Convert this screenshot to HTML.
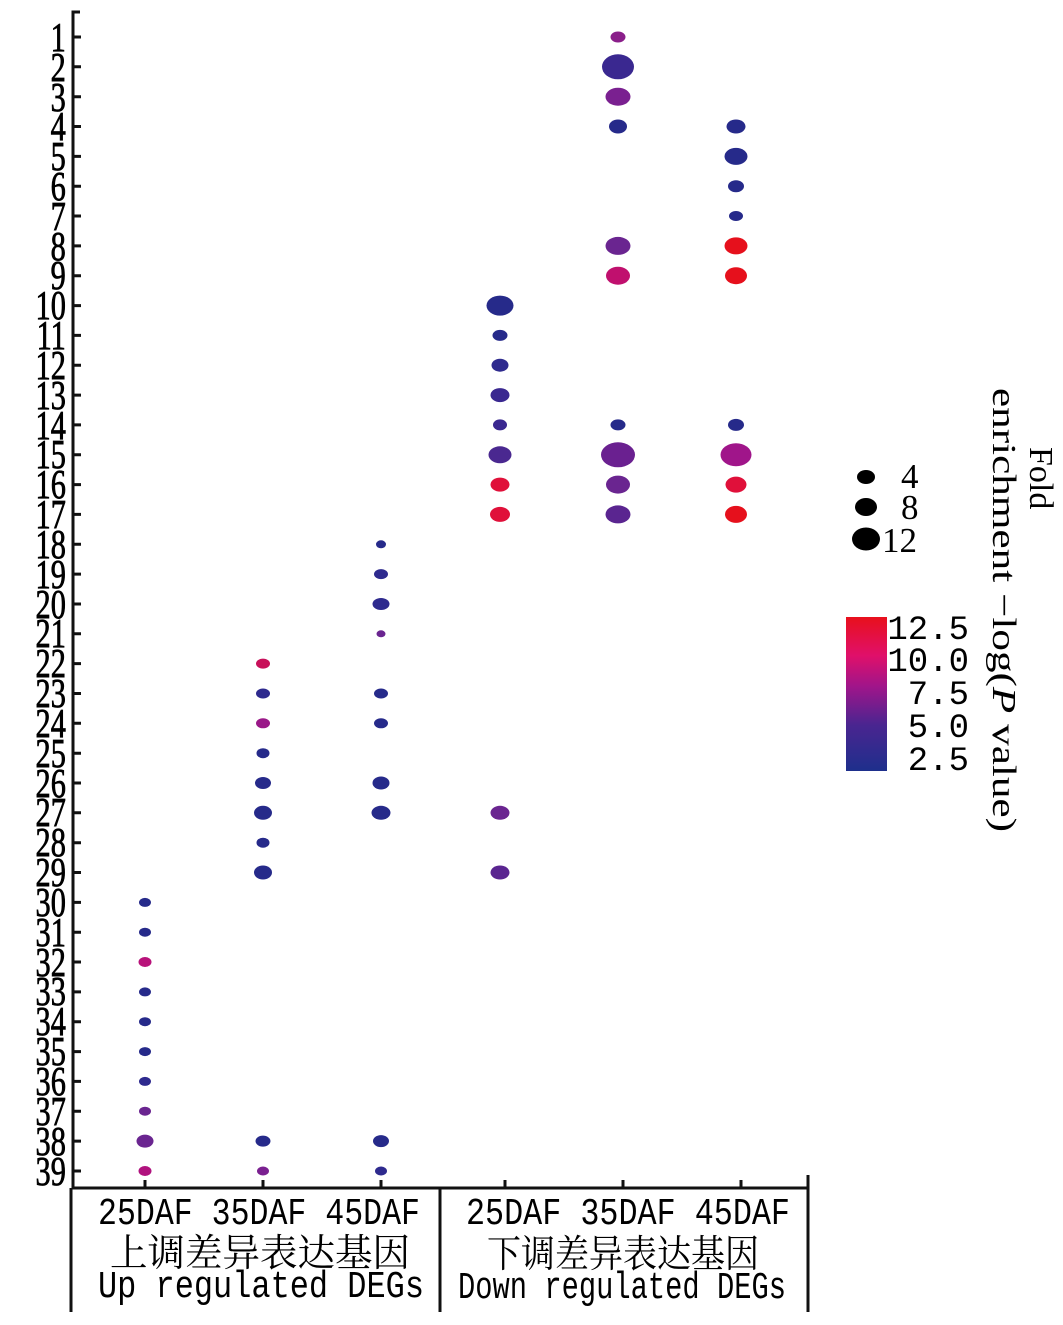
<!DOCTYPE html>
<html><head><meta charset="utf-8"><style>html,body{margin:0;padding:0;background:#fff}svg{display:block}</style></head>
<body>
<svg width="1063" height="1325" viewBox="0 0 1063 1325" xmlns="http://www.w3.org/2000/svg">
<defs>
<linearGradient id="cb" x1="0" y1="1" x2="0" y2="0">
<stop offset="0" stop-color="#1e2f8c"/><stop offset="0.3" stop-color="#4a2590"/><stop offset="0.55" stop-color="#a0158a"/><stop offset="0.75" stop-color="#e0106a"/><stop offset="1" stop-color="#e8101c"/>
</linearGradient>
</defs>
<g stroke="#111" stroke-width="3" fill="none">
<path d="M80 12 H73 V1188 H808 V1175"/>
<path d="M71 1188 V1312 M440 1188 V1312 M808 1188 V1312"/>
<path d="M73 37h8M73 66.8h8M73 96.7h8M73 126.5h8M73 156.4h8M73 186.2h8M73 216h8M73 245.9h8M73 275.7h8M73 305.6h8M73 335.4h8M73 365.2h8M73 395.1h8M73 424.9h8M73 454.8h8M73 484.6h8M73 514.4h8M73 544.3h8M73 574.1h8M73 604h8M73 633.8h8M73 663.6h8M73 693.5h8M73 723.3h8M73 753.2h8M73 783h8M73 812.8h8M73 842.7h8M73 872.5h8M73 902.4h8M73 932.2h8M73 962h8M73 991.9h8M73 1021.7h8M73 1051.6h8M73 1081.4h8M73 1111.2h8M73 1141.1h8M73 1171h8"/>
<path d="M145 1188v-8M263 1188v-8M381 1188v-8M505 1188v-8M623 1188v-8M741 1188v-8"/>
</g>
<g font-family="Liberation Serif, serif" font-size="41" fill="#000" stroke="#000" stroke-width="0.8" text-anchor="end" transform="scale(0.74,1)">
<text x="89" y="51">1</text><text x="89" y="81">2</text><text x="89" y="111">3</text><text x="89" y="140">4</text><text x="89" y="170">5</text><text x="89" y="200">6</text><text x="89" y="230">7</text><text x="89" y="260">8</text><text x="89" y="289">9</text><text x="89" y="319">10</text><text x="89" y="349">11</text><text x="89" y="379">12</text><text x="89" y="409">13</text><text x="89" y="439">14</text><text x="89" y="468">15</text><text x="89" y="498">16</text><text x="89" y="528">17</text><text x="89" y="558">18</text><text x="89" y="588">19</text><text x="89" y="618">20</text><text x="89" y="647">21</text><text x="89" y="677">22</text><text x="89" y="707">23</text><text x="89" y="737">24</text><text x="89" y="767">25</text><text x="89" y="797">26</text><text x="89" y="826">27</text><text x="89" y="856">28</text><text x="89" y="886">29</text><text x="89" y="916">30</text><text x="89" y="946">31</text><text x="89" y="976">32</text><text x="89" y="1005">33</text><text x="89" y="1035">34</text><text x="89" y="1065">35</text><text x="89" y="1095">36</text><text x="89" y="1125">37</text><text x="89" y="1155">38</text><text x="89" y="1185">39</text>
</g>
<g>
<ellipse cx="145" cy="902.4" rx="6" ry="4.5" fill="#262a8a"/>
<ellipse cx="145" cy="932.2" rx="6" ry="4.5" fill="#262a8a"/>
<ellipse cx="145" cy="962" rx="6.5" ry="5" fill="#b8127a"/>
<ellipse cx="145" cy="991.9" rx="6" ry="4.5" fill="#262a8a"/>
<ellipse cx="145" cy="1021.7" rx="6" ry="4.5" fill="#262a8a"/>
<ellipse cx="145" cy="1051.6" rx="6" ry="4.5" fill="#262a8a"/>
<ellipse cx="145" cy="1081.4" rx="6" ry="4.5" fill="#2e2a8e"/>
<ellipse cx="145" cy="1111.2" rx="6" ry="4.5" fill="#6a2590"/>
<ellipse cx="145" cy="1141.1" rx="8.5" ry="6.5" fill="#6a2590"/>
<ellipse cx="145" cy="1171" rx="6.5" ry="5" fill="#b0127e"/>
<ellipse cx="263" cy="663.6" rx="7" ry="5" fill="#c8105a"/>
<ellipse cx="263" cy="693.5" rx="7" ry="5" fill="#2e2a8e"/>
<ellipse cx="263" cy="723.3" rx="7" ry="5" fill="#9a1888"/>
<ellipse cx="263" cy="753.2" rx="6.5" ry="5" fill="#262a8a"/>
<ellipse cx="263" cy="783" rx="8" ry="6" fill="#262a8a"/>
<ellipse cx="263" cy="812.8" rx="9" ry="7" fill="#262a8a"/>
<ellipse cx="263" cy="842.7" rx="6.5" ry="5" fill="#262a8a"/>
<ellipse cx="263" cy="872.5" rx="9" ry="7" fill="#262a8a"/>
<ellipse cx="263" cy="1141.1" rx="7.5" ry="5.5" fill="#262a8a"/>
<ellipse cx="263" cy="1171" rx="6" ry="4.5" fill="#7a2090"/>
<ellipse cx="381" cy="544.3" rx="5" ry="4" fill="#262a8a"/>
<ellipse cx="381" cy="574.1" rx="7" ry="5" fill="#2e2a8e"/>
<ellipse cx="381" cy="604" rx="8.5" ry="6" fill="#2e2a8e"/>
<ellipse cx="381" cy="633.8" rx="4.5" ry="3.5" fill="#6a2590"/>
<ellipse cx="381" cy="693.5" rx="7" ry="5" fill="#262a8a"/>
<ellipse cx="381" cy="723.3" rx="7" ry="5" fill="#262a8a"/>
<ellipse cx="381" cy="783" rx="8.5" ry="6.5" fill="#262a8a"/>
<ellipse cx="381" cy="812.8" rx="9.5" ry="7" fill="#262a8a"/>
<ellipse cx="381" cy="1141.1" rx="8" ry="6" fill="#262a8a"/>
<ellipse cx="381" cy="1171" rx="6" ry="4.5" fill="#2e2a8e"/>
<ellipse cx="500" cy="305.6" rx="13.5" ry="10" fill="#262a8a"/>
<ellipse cx="500" cy="335.4" rx="7.5" ry="5.5" fill="#262a8a"/>
<ellipse cx="500" cy="365.2" rx="8.5" ry="6.5" fill="#2e2a8e"/>
<ellipse cx="500" cy="395.1" rx="9.5" ry="7" fill="#3a2890"/>
<ellipse cx="500" cy="424.9" rx="7" ry="5.5" fill="#3a2890"/>
<ellipse cx="500" cy="454.8" rx="11.5" ry="8.5" fill="#4a2890"/>
<ellipse cx="500" cy="484.6" rx="9.5" ry="7" fill="#e0103a"/>
<ellipse cx="500" cy="514.4" rx="10" ry="7.5" fill="#e0103a"/>
<ellipse cx="500" cy="812.8" rx="9.5" ry="7" fill="#6a2590"/>
<ellipse cx="500" cy="872.5" rx="9.5" ry="7" fill="#5a2590"/>
<ellipse cx="618" cy="37" rx="7.5" ry="5.5" fill="#8a1f8a"/>
<ellipse cx="618" cy="66.8" rx="16" ry="12.5" fill="#3a2890"/>
<ellipse cx="618" cy="96.7" rx="12.5" ry="9" fill="#7a2090"/>
<ellipse cx="618" cy="126.5" rx="9" ry="7" fill="#262a8a"/>
<ellipse cx="618" cy="245.9" rx="12.5" ry="9" fill="#6a2590"/>
<ellipse cx="618" cy="275.7" rx="12" ry="9" fill="#c0106e"/>
<ellipse cx="618" cy="424.9" rx="7.5" ry="5.5" fill="#262a8a"/>
<ellipse cx="618" cy="454.8" rx="17" ry="12.5" fill="#6a2090"/>
<ellipse cx="618" cy="484.6" rx="12" ry="9" fill="#6a2590"/>
<ellipse cx="618" cy="514.4" rx="12.5" ry="9" fill="#5a2590"/>
<ellipse cx="736" cy="126.5" rx="9.5" ry="7" fill="#262a8a"/>
<ellipse cx="736" cy="156.4" rx="11.5" ry="8.5" fill="#262a8a"/>
<ellipse cx="736" cy="186.2" rx="8" ry="6" fill="#262a8a"/>
<ellipse cx="736" cy="216" rx="7" ry="5" fill="#262a8a"/>
<ellipse cx="736" cy="245.9" rx="11.5" ry="8.5" fill="#e6101c"/>
<ellipse cx="736" cy="275.7" rx="11" ry="8.5" fill="#e6101c"/>
<ellipse cx="736" cy="424.9" rx="8" ry="6" fill="#262a8a"/>
<ellipse cx="736" cy="454.8" rx="15.5" ry="11.5" fill="#a0158a"/>
<ellipse cx="736" cy="484.6" rx="10.5" ry="8" fill="#e0103a"/>
<ellipse cx="736" cy="514.4" rx="11" ry="8.5" fill="#e6101c"/>
</g>
<g font-family="Liberation Mono, monospace" font-size="38" fill="#000">
<text x="98" y="1224" textLength="322" lengthAdjust="spacingAndGlyphs">25DAF 35DAF 45DAF</text>
<text x="466" y="1224" textLength="324" lengthAdjust="spacingAndGlyphs">25DAF 35DAF 45DAF</text>
<text x="98" y="1297" textLength="326" lengthAdjust="spacingAndGlyphs">Up regulated DEGs</text>
<text x="458" y="1298" textLength="328" lengthAdjust="spacingAndGlyphs">Down regulated DEGs</text>
</g>
<g font-family="Liberation Serif, 'Noto Serif CJK SC', serif" font-size="38" fill="#000">
<text x="110" y="1266" textLength="300" lengthAdjust="spacingAndGlyphs">上调差异表达基因</text>
<text x="487" y="1267" textLength="272" lengthAdjust="spacingAndGlyphs">下调差异表达基因</text>
</g>
<ellipse cx="866" cy="477" rx="9" ry="7" fill="#000"/>
<ellipse cx="866" cy="507" rx="11" ry="9" fill="#000"/>
<ellipse cx="866" cy="539" rx="14" ry="11.5" fill="#000"/>
<g font-family="Liberation Serif, serif" font-size="35" fill="#000">
<text x="901" y="488">4</text><text x="901" y="519">8</text><text x="882" y="552">12</text>
</g>
<rect x="846" y="617" width="41" height="154" fill="url(#cb)"/>
<g font-family="Liberation Mono, monospace" font-size="34" fill="#000" text-anchor="end">
<text x="969" y="639">12.5</text><text x="969" y="671">10.0</text><text x="969" y="704">7.5</text><text x="969" y="737">5.0</text><text x="969" y="770">2.5</text>
</g>
<g font-family="Liberation Serif, serif" font-size="34" fill="#000">
<text transform="translate(1030,447) rotate(90)">Fold</text>
<text transform="translate(993,388) rotate(90)" textLength="444" lengthAdjust="spacingAndGlyphs">enrichment −log(<tspan font-style="italic">P</tspan> value)</text>
</g>
</svg>
</body></html>
